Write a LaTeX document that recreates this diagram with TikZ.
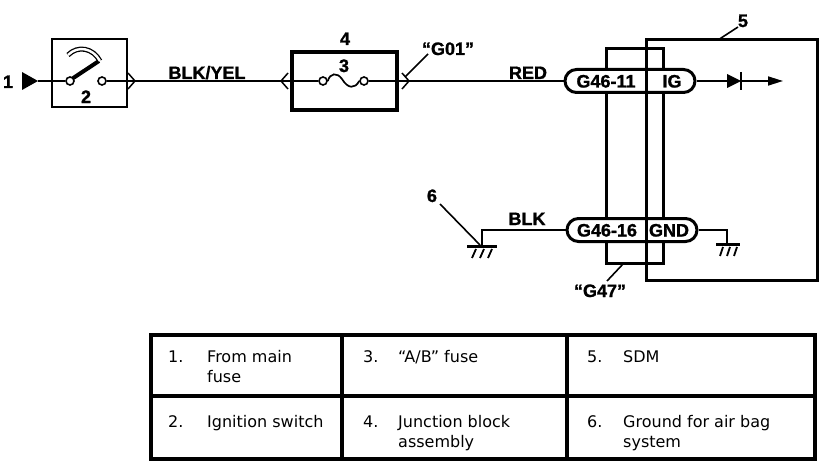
\documentclass[tikz,border=0pt]{standalone}
\usepackage{fontspec}
\setmainfont{Liberation Sans}
\newfontfamily\tabfont{DejaVu Sans}
\newfontfamily\lblfont[FakeBold=1.2]{Liberation Sans Bold}
\usetikzlibrary{arrows.meta}
\begin{document}
\begin{tikzpicture}[x=1pt,y=-1pt,
  lbl/.style={font=\lblfont\fontsize{18}{18}\selectfont, inner sep=0pt, anchor=base},
  wire/.style={line width=1.7pt},
  leader/.style={line width=1.6pt},
  boxline/.style={draw, line width=3pt},
  contact/.style={circle, draw, line width=1.6pt, minimum size=8pt, inner sep=0pt, fill=white},
  pill/.style={draw, line width=3pt, fill=white, rounded corners=11.5pt, minimum width=130pt, minimum height=23pt, inner sep=0pt},
  tabtxt/.style={font=\tabfont\fontsize{16}{20}\selectfont, anchor=base west, inner sep=0pt},
  gnd/.style={line width=3pt},
  hatch/.style={line width=1.8pt},
]
\useasboundingbox (0,0) rectangle (832,468);
\fill[white] (0,0) rectangle (832,468);

% ---------- boxes ----------
\draw[boxline, line width=2.4pt] (52,39) rectangle (127,107);
\draw[boxline, line width=3.4pt] (292,52) rectangle (397,110);
\draw[boxline] (646,40) rectangle (817,280);
\draw[boxline] (606,49) rectangle (663,263);

% ---------- source triangle and switch ----------
\fill (22,72) -- (38,81) -- (22,90) -- cycle;
\coordinate (tri) at (38,81);
\node[contact] (sw1) at (70,81) {};
\node[contact] (sw2) at (102,81) {};
\draw[wire] (tri) -- (sw1);
\draw[line width=4pt] (72.5,78.5) -- (99,61);
\draw[double, double distance=2.4pt, line width=1.3pt] (68,55) .. controls (78,45) and (93,48) .. (100,61);
% chevron right of switch
\draw[line width=1.5pt] (128,73) -- (135,81) -- (128,89);

% ---------- fuse ----------
\node[contact] (fu1) at (323,81) {};
\node[contact] (fu2) at (364,81) {};
\draw[wire] (sw2) -- (fu1);
\draw[wire] (fu1.east) .. controls (330,73) and (337,72) .. (342,79) .. controls (348,89) and (355,89) .. (fu2.west);
\draw[line width=1.5pt] (288,73) -- (281,81) -- (288,89);
\draw[line width=1.5pt] (402,73) -- (409,81) -- (402,89);

% ---------- connectors ----------
\node[pill] (c11) at (630,81) {};
\node[pill] (c16) at (632,230) {};
\draw[line width=3pt] (646,69.5) -- (646,92.5);
\draw[line width=3pt] (646,218.5) -- (646,241.5);
\draw[wire] (fu2) -- (c11.west);
\node[lbl] (t11) at (606,87.5) {G46-11};
\node[lbl] (tig) at (672,87.5) {IG};
\node[lbl] (t16) at (607,236.5) {G46-16};
\node[lbl] (tgnd) at (669,236.5) {GND};

% ---------- diode and arrow ----------
\coordinate (dA) at (727,81);
\coordinate (dK) at (741,81);
\coordinate (arr) at (783,81);
\draw[wire] (c11.east) -- (dA);
\fill (727,74) -- (741,81) -- (727,88) -- cycle;
\draw[line width=2.2pt] (741,72) -- (741,90);
\draw[wire, -{Triangle[length=15pt,width=9pt]}] (dK) -- (arr);

% ---------- grounds ----------
\coordinate (gl) at (482,246);
\coordinate (gr) at (727,244);
\draw[wire] (c16.west) -- (482,230) -- (gl);
\draw[gnd] (467,246.5) -- (497,246.5);
\draw[hatch] (476,249) -- (472,258);
\draw[hatch] (484,249) -- (480,258);
\draw[hatch] (492,249) -- (488,258);
\draw[wire] (c16.east) -- (727,230) -- (gr);
\draw[gnd] (716,244.5) -- (740,244.5);
\draw[hatch] (723,247) -- (720,256);
\draw[hatch] (730,247) -- (727,256);
\draw[hatch] (737,247) -- (734,256);

% ---------- labels ----------
\node[lbl] (n1) at (8,88) {1};
\node[lbl] (n2) at (86,103) {2};
\node[lbl] (byel) at (207,79) {BLK/YEL};
\node[lbl] (n4) at (345,45) {4};
\node[lbl] (n3) at (344,72) {3};
\node[lbl] (g01) at (448,55) {“G01”};
\node[lbl] (red) at (528,79) {RED};
\node[lbl] (n5) at (743,27) {5};
\node[lbl] (n6) at (432,202) {6};
\node[lbl] (blk) at (527,225) {BLK};
\node[lbl] (g47) at (600,297) {“G47”};

\draw[leader] (428,54) -- (405,77);
\draw[leader] (738,27) -- (718,40);
\draw[leader] (440,204) -- (480,245);
\draw[leader] (623,264) -- (607,281);

% ---------- table ----------
\draw[line width=3.5pt] (151,335) rectangle (815,459);
\draw[line width=3.5pt] (151,396) -- (815,396);
\draw[line width=3.5pt] (342,335) -- (342,459);
\draw[line width=3.5pt] (567,335) -- (567,459);

\node[tabtxt] (k1) at (168,362) {1.};
\node[tabtxt] (v1) at (207,362) {From main};
\node[tabtxt] (v1b) at (207,382) {fuse};
\node[tabtxt] (k2) at (168,427) {2.};
\node[tabtxt] (v2) at (207,427) {Ignition switch};
\node[tabtxt] (k3) at (363,362) {3.};
\node[tabtxt] (v3) at (398,362) {“A/B” fuse};
\node[tabtxt] (k4) at (363,427) {4.};
\node[tabtxt] (v4) at (398,427) {Junction block};
\node[tabtxt] (v4b) at (398,447) {assembly};
\node[tabtxt] (k5) at (587,362) {5.};
\node[tabtxt] (v5) at (623,362) {SDM};
\node[tabtxt] (k6) at (587,427) {6.};
\node[tabtxt] (v6) at (623,427) {Ground for air bag};
\node[tabtxt] (v6b) at (623,447) {system};
\end{tikzpicture}
\end{document}
